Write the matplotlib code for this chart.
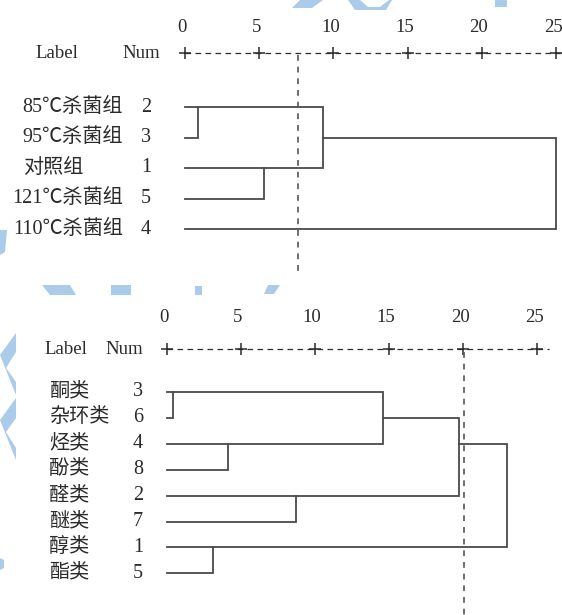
import matplotlib.pyplot as plt
from matplotlib.patches import Polygon

plt.rcParams['font.family'] = ['Liberation Serif', 'Noto Sans CJK SC']

# top dendrogram: sterilisation groups
top_labels = ['85℃杀菌组', '95℃杀菌组', '对照组', '121℃杀菌组', '110℃杀菌组']
top_nums = [2, 3, 1, 5, 4]
# (row of cluster a, row of cluster b, rescaled distance)
top_merges = [(0, 1, 0.9), (2, 3, 5.3), (0, 2, 9.3), (1, 4, 25.0)]
top_cut = 7.6

# bottom dendrogram: compound classes
bot_labels = ['酮类', '杂环类', '烃类', '酚类', '醛类', '醚类', '醇类', '酯类']
bot_nums = [3, 6, 4, 8, 2, 7, 1, 5]
bot_merges = [(0, 1, 0.4), (2, 3, 4.1), (4, 5, 8.7), (6, 7, 3.1),
              (0, 2, 14.6), (1, 4, 19.7), (2, 6, 23.0)]
bot_cut = 20.1

ticks = [0, 5, 10, 15, 20, 25]

W, H = 562, 615
LINE = '#4a4a4a'
TXT = '#2b2b2b'
WM = '#abcbea'


def draw_panel(ax, labels, nums, merges, cut, p):
    x0, sx, y0, sy = p['x0'], p['sx'], p['y0'], p['sy']
    ax.set_xlim(-x0 / sx, (W - x0) / sx)
    ax.set_ylim((H - y0) / sy, -y0 / sy)
    ax.axis('off')
    ax.patch.set_alpha(0)
    X = lambda px: (px - x0) / sx
    Y = lambda py: (py - y0) / sy

    # header scale  +-----+-----+
    ya = Y(p['axis_y'])
    ax.plot([ticks[0], p['axis_end']], [ya, ya], color=TXT, lw=0.9,
            dashes=(4.5, 3.5), dash_capstyle='butt')
    ax.plot(ticks, [ya] * len(ticks), ls='none', marker='+', ms=8, mew=1.1, color=TXT)
    for t in ticks:
        ax.text(t - 0.2, Y(p['tick_y']), str(t), ha='center', va='center',
                fontsize=13.5, color=TXT)
    ax.text(X(p['label_x']), ya, 'Label', ha='center', va='center', fontsize=13.5, color=TXT)
    ax.text(X(p['num_x']), ya, 'Num', ha='center', va='center', fontsize=13.5, color=TXT)

    # row labels
    for i, (lab, n) in enumerate(zip(labels, nums)):
        if '℃' in lab:
            ax.text(X(p['lab_right']), i, lab, ha='right', va='center', fontsize=14.5, color=TXT)
        else:
            ax.text(X(p['lab_left']), i, lab, ha='left', va='center', fontsize=14.5, color=TXT)
        ax.text(X(p['n_x']), i, str(n), ha='center', va='center', fontsize=14.5, color=TXT)

    # tree, SPSS style: merged cluster continues on the middle row (rounded up)
    xend = {i: 0.0 for i in range(len(labels))}
    for a, b, d in merges:
        ax.plot([xend[a], d, d, xend[b]], [a, a, b, b], color=LINE, lw=1.3,
                solid_joinstyle='miter')
        new = (a + b) // 2
        xend[new] = d

    ax.plot([cut, cut], [Y(p['cut_top']), Y(p['cut_bot'])], color='#555555',
            lw=1.2, dashes=(3.5, 3.5))


fig = plt.figure(figsize=(W / 100, H / 100), dpi=100)

# faint watermark in the background (pixel coords, y down)
wm_shapes = [
    [(300, 0), (323, 0), (312, 8), (292, 8)],
    [(348, 0), (360, 0), (368, 7), (380, 7), (389, 0), (392, 0), (386, 10), (355, 10)],
    [(495, 0), (507, 0), (507, 7), (495, 7)],
    [(0, 230), (7, 230), (5, 252), (0, 255)],
    [(42, 285), (70, 285), (76, 295), (50, 295)],
    [(111, 285), (131, 285), (131, 295), (111, 295)],
    [(195, 286), (202, 286), (202, 295), (195, 295)],
    [(268, 285), (280, 285), (274, 294), (264, 294)],
    [(0, 355), (16, 333), (16, 352), (6, 368), (16, 382), (16, 395)],
    [(0, 420), (16, 398), (16, 418), (6, 432), (16, 448), (16, 460)],
    [(0, 558), (4, 560), (4, 568), (0, 570)],
]
for s in wm_shapes:
    pts = [(x / W, 1 - y / H) for x, y in s]
    fig.add_artist(Polygon(pts, closed=True, transform=fig.transFigure,
                           facecolor=WM, edgecolor='none', zorder=0))

top_layout = dict(x0=185, sx=14.84, y0=107, sy=30.5, axis_y=53, tick_y=27, axis_end=25.5,
                  label_x=57, num_x=141, lab_left=23, lab_right=123, n_x=146,
                  cut_top=55, cut_bot=272)
bot_layout = dict(x0=167, sx=14.8, y0=392, sy=25.9, axis_y=349, tick_y=318, axis_end=25.8,
                  label_x=66, num_x=124, lab_left=49, lab_right=122, n_x=138,
                  cut_top=352, cut_bot=615)

ax_top = fig.add_axes([0, 0, 1, 1])
draw_panel(ax_top, top_labels, top_nums, top_merges, top_cut, top_layout)
ax_bot = fig.add_axes([0, 0, 1, 1], label='bottom')
draw_panel(ax_bot, bot_labels, bot_nums, bot_merges, bot_cut, bot_layout)

fig.savefig('out.png', dpi=100)
